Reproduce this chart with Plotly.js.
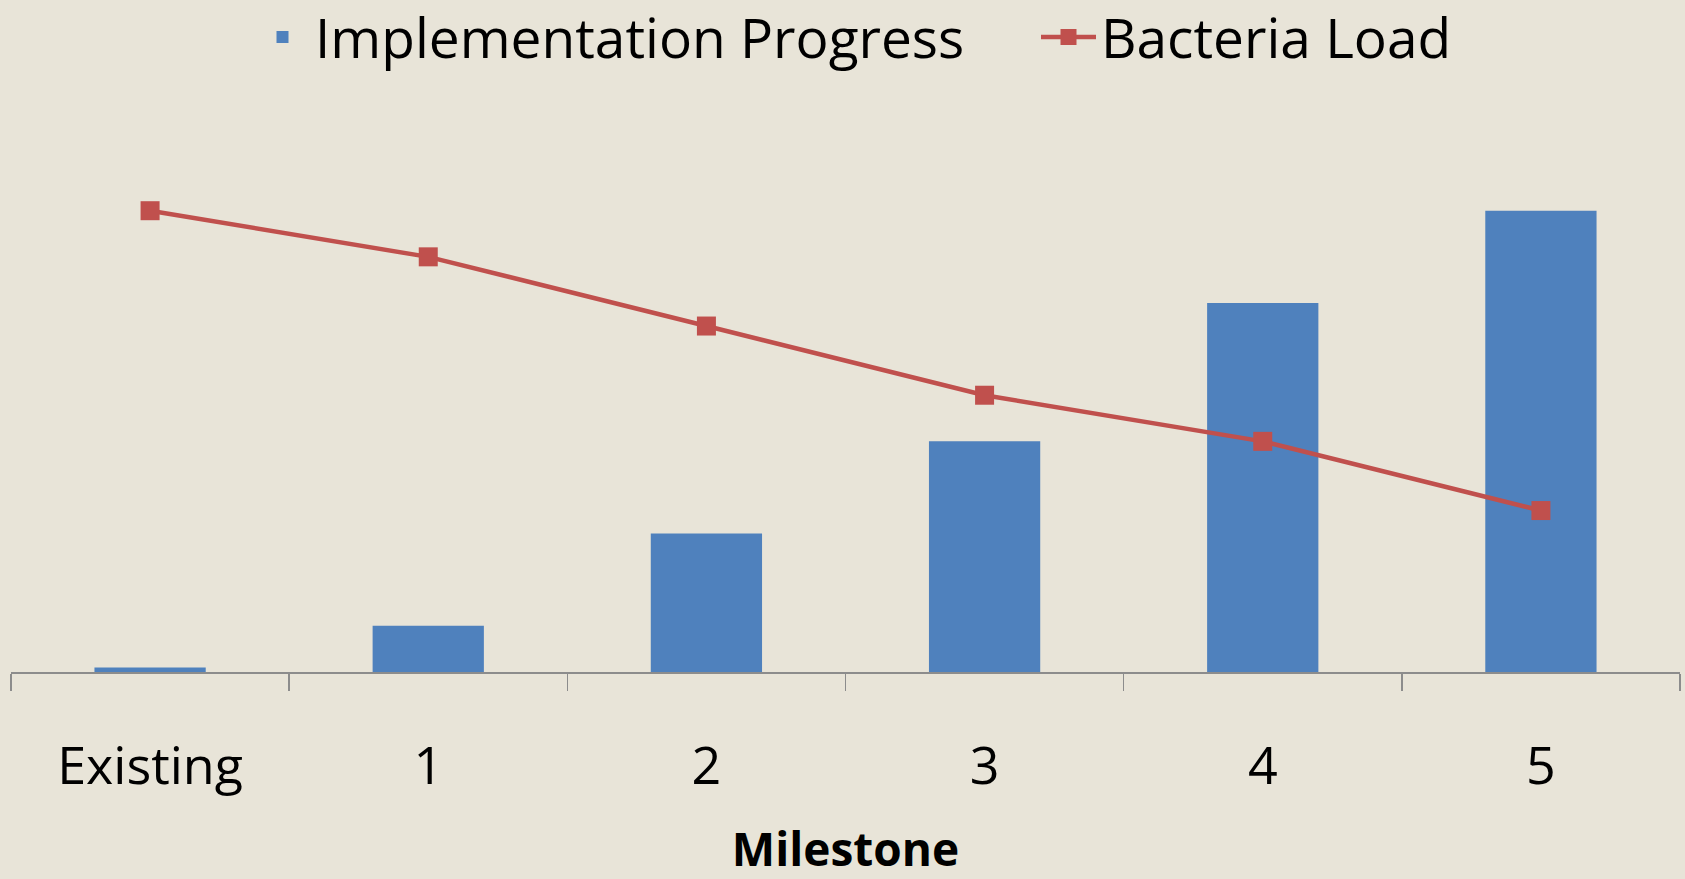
<!DOCTYPE html>
<html>
<head>
<meta charset="utf-8">
<script src="https://cdn.plot.ly/plotly-3.0.1.min.js"></script>
<style>html,body{margin:0;padding:0;background:#E8E4D8;}#chart{width:1685px;height:879px;}</style>
</head>
<body>
<div id="chart"></div>
<script>
const milestones = ["Existing", "1", "2", "3", "4", "5"];
const implementationProgress = [0.05, 0.5, 1.5, 2.5, 4.0, 5.0];
const bacteriaLoad = [5.0, 4.5, 3.75, 3.0, 2.5, 1.75];

const traces = [
  {
    type: "bar",
    name: "Implementation Progress",
    legend: "legend",
    x: milestones,
    y: implementationProgress,
    width: 0.4,
    marker: {color: "#4F81BD"},
    hoverinfo: "x+y"
  },
  {
    type: "scatter",
    mode: "lines+markers",
    name: "Bacteria Load",
    legend: "legend2",
    x: milestones,
    y: bacteriaLoad,
    line: {color: "#C0504D", width: 4.5},
    marker: {symbol: "square", size: 19, color: "#C0504D"}
  }
];

const legendCommon = {
  orientation: "h",
  xref: "container", xanchor: "left",
  yref: "paper", y: 1.184, yanchor: "top",
  font: {size: 55, color: "#000"},
  bgcolor: "rgba(0,0,0,0)",
  itemwidth: 55
};

const layout = {
  width: 1685,
  height: 879,
  paper_bgcolor: "#E8E4D8",
  plot_bgcolor: "#E8E4D8",
  margin: {l: 11, r: 5, t: 100, b: 207, autoexpand: false},
  font: {family: "Open Sans, sans-serif", color: "#000"},
  showlegend: true,
  legend: Object.assign({}, legendCommon, {x: 250 / 1685}),
  legend2: Object.assign({}, legendCommon, {x: 1036 / 1685}),
  xaxis: {
    type: "category",
    range: [-0.5, 5.5],
    showline: true,
    linecolor: "#8C8C8C",
    linewidth: 1.5,
    ticks: "outside",
    tickson: "boundaries",
    ticklen: 17,
    tickcolor: "#8C8C8C",
    tickwidth: 1.5,
    tickfont: {size: 52, color: "#000"},
    ticklabelstandoff: 48,
    showgrid: false,
    zeroline: false,
    title: {text: "<b>Milestone</b>", font: {size: 46, color: "#000"}, standoff: 42}
  },
  yaxis: {
    range: [0, 6.2],
    visible: false,
    showgrid: false,
    zeroline: false,
    fixedrange: true
  },
  bargap: 0.6
};

Plotly.newPlot("chart", traces, layout, {displayModeBar: false, staticPlot: true});
</script>
</body>
</html>
